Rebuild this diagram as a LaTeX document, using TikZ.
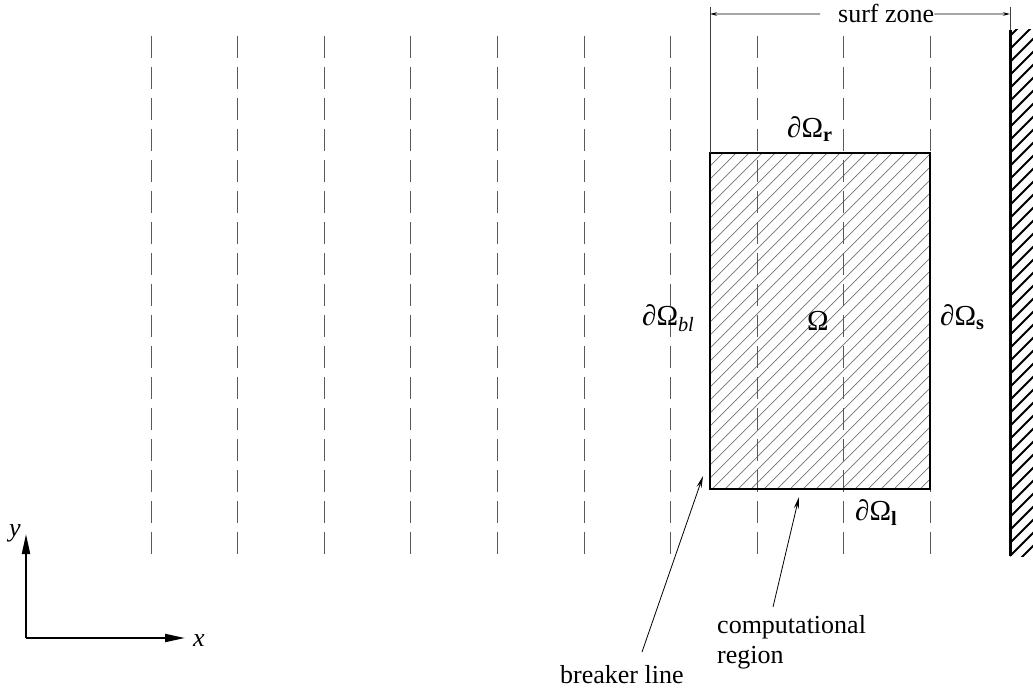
\documentclass[tikz,border=0pt]{standalone}
\usepackage{fontspec}
\setmainfont{Liberation Serif}
\usetikzlibrary{arrows.meta,calc}
\begin{document}
\begin{tikzpicture}[x=1pt,y=-1pt,
  txt/.style={inner sep=0pt, font=\fontsize{26}{30}\selectfont},
  bnd/.style={inner sep=0pt, font=\fontsize{29}{33}\selectfont},
  gridline/.style={draw=black!65, line width=0.9pt, dash pattern=on 22pt off 9pt},
  hatchline/.style={draw=black!55, line width=0.7pt},
  region/.style={draw=black, line width=2.6pt},
  wallline/.style={draw=black, line width=3pt},
  wallhatch/.style={draw=black, line width=2pt},
  extline/.style={draw=black!75, line width=0.9pt},
  dimarrow/.style={draw=black, line width=0.9pt, -{Stealth[length=7pt,width=3.5pt]}},
  pointer/.style={draw=black, line width=0.8pt, -{Stealth[length=12pt,width=5pt]}},
  axis/.style={draw=black, line width=2pt, -{Triangle[length=20pt,width=8pt]}}]
\useasboundingbox (0,0) rectangle (1033,692);

% corners of the computational region
\coordinate (R1) at (710,153);
\coordinate (R2) at (930,489);

% hatching of the computational region
\begin{scope}
  \clip (R1) rectangle (R2);
  \foreach \k in {0,...,44}
    \draw[hatchline] ({374+13*\k},489) -- ++(336,-336);
\end{scope}

% dashed wave crest lines
\foreach \i in {0,...,9}
  \draw[gridline] ({151+86.6*\i},36) -- ({151+86.6*\i},558);

% computational region outline
\draw[region] (R1) rectangle (R2);

% shoreline wall with hatching
\coordinate (W1) at (1010,30);
\coordinate (W2) at (1010,556);
\begin{scope}
  \clip (1008,30) rectangle (1033,556);
  \foreach \k in {0,...,42}
    \draw[wallhatch] (1010,{36+13*\k}) -- ++(24,-24);
\end{scope}
\draw[wallline] (W1) -- (W2);

% surf zone dimension
\coordinate (szL) at (710,14);
\coordinate (szR) at (1010,14);
\coordinate (extL) at (710,7);
\coordinate (extR) at (1010,7);
\draw[extline] (extL) -- (R1);
\draw[extline] (extR) -- (W1);
\node[txt, anchor=base west] (sz) at (838,23) {surf zone};
\draw[dimarrow] ([xshift=-18pt]sz.west) -- (szL);
\draw[dimarrow] (sz.east) -- (szR);

% boundary labels
\node[bnd, anchor=base west] (Lr) at (787,138) {\textit{∂}Ω\textsubscript{\textbf{r}}};
\node[bnd, anchor=base west] (Lbl) at (642,326) {\textit{∂}Ω\textsubscript{\textit{bl}}};
\node[bnd, anchor=base] (Lo) at (818,331) {Ω};
\node[bnd, anchor=base west] (Ls) at (940,326) {\textit{∂}Ω\textsubscript{\textbf{s}}};
\node[bnd, anchor=base west] (Ll) at (855,520) {\textit{∂}Ω\textsubscript{\textbf{l}}};

% annotations
\node[txt, anchor=base west] (brk) at (560,683) {breaker line};
\node[txt, anchor=base west, align=left] (comp) at (717,663) {computational\\region};
\coordinate (brkTail) at (642,652);
\coordinate (brkTip) at (703,476);
\coordinate (compTail) at (773,607);
\coordinate (compTip) at (799,497);
\draw[pointer] (brkTail) -- (brkTip);
\draw[pointer] (compTail) -- (compTip);

% coordinate axes
\coordinate (O) at (26,638);
\coordinate (Ytip) at (26,534);
\coordinate (Xtip) at (185,638);
\draw[axis] (O) -- (Ytip);
\draw[axis] (O) -- (Xtip);
\node[txt, anchor=base] (ylab) at (15,536) {\textit{y}};
\node[txt, anchor=base] (xlab) at (199,646) {\textit{x}};
\end{tikzpicture}
\end{document}
